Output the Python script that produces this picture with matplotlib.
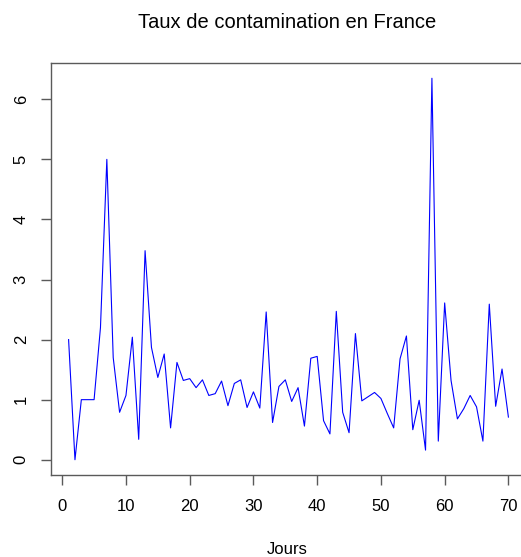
import numpy as np
import matplotlib
matplotlib.use("Agg")
from matplotlib import pyplot as plt

plt.rcParams['font.family'] = ['Liberation Sans', 'DejaVu Sans']

# Daily contamination rate, days 1..70
jours = np.arange(1, 71)
taux = [
    2.00, 0.00, 1.00, 1.00, 1.00, 2.20, 5.00, 1.70, 0.79, 1.07,
    2.04, 0.34, 3.48, 1.87, 1.37, 1.76, 0.53, 1.62, 1.32, 1.35,
    1.20, 1.33, 1.07, 1.10, 1.31, 0.90, 1.27, 1.33, 0.87, 1.13,
    0.86, 2.46, 0.62, 1.22, 1.33, 0.97, 1.20, 0.56, 1.69, 1.72,
    0.65, 0.43, 2.47, 0.79, 0.45, 2.10, 0.98, 1.05, 1.12, 1.02,
    0.77, 0.53, 1.68, 2.06, 0.50, 0.99, 0.16, 6.35, 0.31, 2.61,
    1.32, 0.68, 0.85, 1.07, 0.88, 0.31, 2.59, 0.89, 1.51, 0.71,
]
xticks = [0, 10, 20, 30, 40, 50, 60, 70]
yticks = [0, 1, 2, 3, 4, 5, 6]

W, H = 521, 557
fig = plt.figure(figsize=(W / 100, H / 100), dpi=100)
# plot region in pixels: left 51, right 526 (runs past the figure edge), top 63, bottom 475
ax = fig.add_axes([51 / W, (H - 475) / H, (526 - 51) / W, (475 - 63) / H])

ax.plot(jours, taux, color='blue', linewidth=0.8)

# R-style 4% padding around the data range
xr = jours.max() - jours.min()
ax.set_xlim(jours.min() - 0.04 * xr, jours.max() + 0.04 * xr)
yr = max(taux) - min(taux)
ax.set_ylim(min(taux) - 0.04 * yr, max(taux) + 0.04 * yr)

box_col = '#5a5a5a'
for s in ax.spines.values():
    s.set_color(box_col)
    s.set_linewidth(1.0)
ax.spines['right'].set_visible(False)

ax.set_xticks(xticks)
ax.set_yticks(yticks)
ax.tick_params(axis='both', direction='out', length=7, width=1.0, color=box_col,
               labelsize=12, labelcolor='black')
ax.tick_params(axis='x', pad=10)
ax.tick_params(axis='y', pad=9)
for lab in ax.get_yticklabels():
    lab.set_rotation(90)
    lab.set_va('center')

fig.text(287 / W, 1 - 22 / H, 'Taux de contamination en France',
         ha='center', va='center', fontsize=14.5)
fig.text(287 / W, 1 - 549 / H, 'Jours', ha='center', va='center', fontsize=12)

fig.savefig('out.png', dpi=100)
